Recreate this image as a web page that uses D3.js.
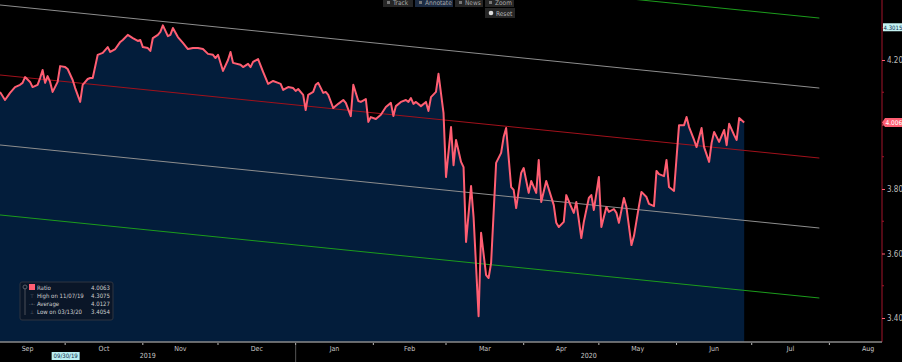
<!DOCTYPE html>
<html>
<head>
<meta charset="utf-8">
<script src="https://cdn.jsdelivr.net/npm/d3@7"></script>
<style>
  body { margin: 0; background: #000; overflow: hidden; }
  text { font-family: "DejaVu Sans Condensed", "Liberation Sans Narrow", "Liberation Sans", sans-serif; font-stretch: condensed; }
</style>
</head>
<body>
<div class="ratio-chart"></div>
<script>
// ratio series
const dates = [
  "2019-09-05","2019-09-07","2019-09-09","2019-09-11","2019-09-13","2019-09-14","2019-09-15","2019-09-17","2019-09-18","2019-09-20",
  "2019-09-21","2019-09-22","2019-09-23","2019-09-24","2019-09-25","2019-09-26","2019-09-28","2019-09-29",
  "2019-10-01","2019-10-02","2019-10-04","2019-10-05","2019-10-07","2019-10-08","2019-10-10","2019-10-11","2019-10-12","2019-10-14",
  "2019-10-15","2019-10-16","2019-10-18","2019-10-19","2019-10-21","2019-10-23","2019-10-24","2019-10-26","2019-10-28","2019-10-30","2019-10-31",
  "2019-11-01","2019-11-03","2019-11-04","2019-11-05","2019-11-07","2019-11-08","2019-11-09","2019-11-11","2019-11-12","2019-11-13",
  "2019-11-15","2019-11-17","2019-11-19","2019-11-21","2019-11-23","2019-11-25","2019-11-27","2019-11-29","2019-11-30",
  "2019-12-01","2019-12-03","2019-12-05","2019-12-06","2019-12-07","2019-12-10","2019-12-11","2019-12-13","2019-12-14","2019-12-15",
  "2019-12-17","2019-12-19","2019-12-21","2019-12-23","2019-12-25","2019-12-26","2019-12-27","2019-12-29","2019-12-31",
  "2020-01-01","2020-01-02","2020-01-04","2020-01-05","2020-01-06","2020-01-08","2020-01-09","2020-01-10","2020-01-12","2020-01-13",
  "2020-01-14","2020-01-16","2020-01-18","2020-01-20","2020-01-21","2020-01-23","2020-01-24","2020-01-26","2020-01-27","2020-01-29","2020-01-30","2020-01-31",
  "2020-02-02","2020-02-04","2020-02-06","2020-02-08","2020-02-09","2020-02-10","2020-02-12","2020-02-14","2020-02-15","2020-02-16",
  "2020-02-17","2020-02-18","2020-02-20","2020-02-22","2020-02-23","2020-02-24","2020-02-26","2020-02-27","2020-02-29",
  "2020-03-01","2020-03-03","2020-03-04","2020-03-05","2020-03-07","2020-03-08","2020-03-09","2020-03-11","2020-03-12","2020-03-14",
  "2020-03-15","2020-03-17","2020-03-18","2020-03-19","2020-03-21","2020-03-23","2020-03-24","2020-03-25","2020-03-27","2020-03-28","2020-03-29","2020-03-31",
  "2020-04-01","2020-04-03","2020-04-04","2020-04-06","2020-04-07","2020-04-08","2020-04-10","2020-04-13","2020-04-14","2020-04-15",
  "2020-04-17","2020-04-18","2020-04-20","2020-04-21","2020-04-22","2020-04-24","2020-04-25","2020-04-27","2020-04-28","2020-04-29",
  "2020-05-01","2020-05-02","2020-05-04","2020-05-05","2020-05-07","2020-05-08","2020-05-09","2020-05-11","2020-05-12","2020-05-14",
  "2020-05-15","2020-05-17","2020-05-18","2020-05-20","2020-05-21","2020-05-23","2020-05-24","2020-05-25","2020-05-27","2020-05-28","2020-05-29","2020-05-31",
  "2020-06-01","2020-06-02","2020-06-04","2020-06-05","2020-06-06","2020-06-08","2020-06-09","2020-06-11","2020-06-12","2020-06-14",
  "2020-06-15","2020-06-16","2020-06-18","2020-06-20","2020-06-21","2020-06-22","2020-06-24","2020-06-25","2020-06-26","2020-06-28"
];
const ratio = [
  4.101,4.076,4.098,4.116,4.123,4.129,4.147,4.132,4.116,4.123,
  4.144,4.169,4.129,4.150,4.132,4.101,4.132,4.181,
  4.178,4.172,4.138,4.113,4.070,4.123,4.141,4.144,4.144,4.216,
  4.219,4.222,4.240,4.225,4.234,4.256,4.262,4.278,4.268,4.259,4.262,
  4.240,4.237,4.228,4.268,4.278,4.287,4.3075,4.274,4.278,4.299,
  4.271,4.253,4.234,4.237,4.237,4.234,4.219,4.216,4.206,
  4.216,4.166,4.200,4.225,4.191,4.185,4.178,4.188,4.178,4.194,
  4.203,4.163,4.126,4.135,4.129,4.126,4.107,4.116,4.113,
  4.104,4.110,4.092,4.045,4.092,4.101,4.123,4.129,4.098,4.101,
  4.092,4.051,4.064,4.076,4.067,4.026,4.123,4.073,4.070,4.079,4.008,4.023,
  4.017,4.030,4.054,4.067,4.026,4.057,4.070,4.076,4.070,4.082,
  4.064,4.070,4.057,4.070,4.042,4.085,4.101,4.157,4.036,
  3.837,3.992,3.874,3.952,3.884,3.868,3.636,3.809,3.713,3.4054,
  3.664,3.533,3.524,3.571,3.881,3.912,3.961,3.989,3.806,3.797,3.741,3.850,
  3.865,3.788,3.825,3.788,3.890,3.760,3.825,3.750,3.695,3.682,
  3.698,3.781,3.744,3.726,3.760,3.648,3.698,3.772,3.781,3.735,
  3.837,3.682,3.744,3.729,3.738,3.726,3.695,3.772,3.744,3.626,
  3.654,3.747,3.791,3.775,3.754,3.747,3.856,3.846,3.840,3.890,3.806,3.794,
  3.896,3.998,3.998,4.023,3.992,3.952,3.930,3.989,3.930,3.884,
  3.943,3.977,3.946,3.983,3.936,4.002,3.967,3.952,4.020,4.0063
];

// axis ticks (4.00 label sits under the last-value tag)
const yTicks = [3.40, 3.60, 3.80, 4.00, 4.20];
const yMinorTicks = [3.50, 3.70, 3.90, 4.10, 4.30];
const years = ["2019", "2020"];

// regression channel (centre line + 1 and 2 std devs)
const channelDates = ["2019-09-05", "2020-07-28"];
const channelMid = [4.1535, 3.896];
const channelSigma = 0.217;
const channelSteps = [-2, -1, 0, 1, 2];
const channelColors = ["#1c9c1c", "#8e8e8e", "#a1111b", "#8e8e8e", "#1c9c1c"];

// legend + tags
const legendLabels = ["Ratio", "High on 11/07/19", "Average", "Low on 03/13/20"];
const legendValues = ["4.0063", "4.3075", "4.0127", "3.4054"];
const legendGlyphs = ["", "\u22A4", "-\u2022-", "\u22A5"];
const lastTag = "4.006";
const topTag = "4.3015";
const cursorDate = "2019-09-30";
const toolButtons = ["Track", "Annotate", "News", "Zoom"];

// set the dimensions
const W = 902, H = 362;
const plot = { left: 0, top: 0, right: 882, bottom: 342 };

const svg = d3.select(".ratio-chart")
  .append("svg")
  .attr("width", W)
  .attr("height", H)
  .style("display", "block")
  .style("background", "#000");

const parse = d3.timeParse("%Y-%m-%d");
const data = dates.map((d, i) => ({ date: parse(d), value: ratio[i] }));

const x = d3.scaleTime()
  .domain([parse("2019-09-05"), parse("2020-08-22")])
  .range([plot.left, plot.right]);

const y = d3.scaleLinear()
  .domain([3.3256, 4.386])
  .range([plot.bottom, plot.top]);

svg.append("clipPath").attr("id", "clip")
  .append("rect")
  .attr("x", plot.left).attr("y", plot.top)
  .attr("width", plot.right - plot.left).attr("height", plot.bottom - plot.top);

// filled area under the ratio
svg.append("path")
  .datum(data)
  .attr("fill", "#031d3b")
  .attr("d", d3.area()
    .x(d => x(d.date))
    .y0(plot.bottom)
    .y1(d => y(d.value)));

// regression channel lines
const c0 = parse(channelDates[0]), c1 = parse(channelDates[1]);
svg.append("g")
  .attr("clip-path", "url(#clip)")
  .selectAll("line")
  .data(channelSteps)
  .join("line")
  .attr("x1", x(c0))
  .attr("x2", x(c1))
  .attr("y1", s => y(channelMid[0] + s * channelSigma))
  .attr("y2", s => y(channelMid[1] + s * channelSigma))
  .attr("stroke", (s, i) => channelColors[i])
  .attr("stroke-width", 1);

// the ratio line
svg.append("path")
  .datum(data)
  .attr("fill", "none")
  .attr("stroke", "#ff5e72")
  .attr("stroke-width", 2)
  .attr("stroke-linejoin", "round")
  .attr("d", d3.line()
    .x(d => x(d.date))
    .y(d => y(d.value)));

// right axis
const yAxis = svg.append("g")
  .attr("transform", `translate(${plot.right},0)`)
  .call(d3.axisRight(y).tickValues(yTicks).tickSize(3).tickPadding(2)
    .tickFormat(d => d === 4 ? "" : d3.format(".2f")(d)));
yAxis.select(".domain").attr("stroke", "#a3142a").attr("d", `M0,0V${plot.bottom}`);
yAxis.selectAll(".tick line").attr("stroke", "#ff5e72");
yAxis.selectAll(".tick text").attr("fill", "#bdbdbd").style("font-size", "8px");
yAxis.selectAll(".minor")
  .data(yMinorTicks)
  .join("line")
  .attr("class", "minor")
  .attr("x1", 0).attr("x2", 2)
  .attr("y1", d => y(d)).attr("y2", d => y(d))
  .attr("stroke", "#a3142a");

// value tags on the right axis
const tagLast = svg.append("g").attr("transform", `translate(${plot.right},${y(ratio[ratio.length - 1])})`);
tagLast.append("path")
  .attr("d", "M0,0L3,-4.5H20V4.5H3Z")
  .attr("fill", "#ff5e72");
tagLast.append("text")
  .attr("x", 3.5).attr("y", 2.5)
  .attr("fill", "#fff")
  .style("font-size", "6.5px")
  .text(lastTag);

const tagTop = svg.append("g").attr("transform", `translate(${plot.right + 1},${y(+topTag)})`);
tagTop.append("rect")
  .attr("x", 0).attr("y", -4).attr("width", 19).attr("height", 8)
  .attr("fill", "#c4f2f2");
tagTop.append("text")
  .attr("x", 0.5).attr("y", 2.3)
  .attr("fill", "#0d2a4a")
  .style("font-size", "6px")
  .text(topTag);

// bottom axis: line, month ticks, month labels in the middle of each month
const xAxis = svg.append("g").attr("transform", `translate(0,${plot.bottom})`);
xAxis.append("line")
  .attr("x1", 0).attr("x2", plot.right)
  .attr("stroke", "#8a8a8a").attr("stroke-width", 1.5);

const months = d3.timeMonth.range(d3.timeMonth.floor(x.domain()[0]), x.domain()[1]);
xAxis.selectAll(".mtick")
  .data(months.filter(m => x(m) > 0))
  .join("line")
  .attr("class", "mtick")
  .attr("x1", d => x(d)).attr("x2", d => x(d))
  .attr("y1", 1).attr("y2", 3)
  .attr("stroke", "#bbb");

xAxis.selectAll(".mlabel")
  .data(months)
  .join("text")
  .attr("class", "mlabel")
  .attr("x", d => x(new Date((+d + +d3.timeMonth.offset(d, 1)) / 2)))
  .attr("y", 9)
  .attr("text-anchor", "middle")
  .attr("fill", "#c8c8c8")
  .style("font-size", "7px")
  .text(d3.timeFormat("%b"));

// years
const jan = parse("2020-01-01");
const yearSpans = [[0, x(jan)], [x(jan), plot.right]];
xAxis.selectAll(".ylabel")
  .data(years)
  .join("text")
  .attr("class", "ylabel")
  .attr("x", (d, i) => (yearSpans[i][0] + yearSpans[i][1]) / 2)
  .attr("y", 16)
  .attr("text-anchor", "middle")
  .attr("fill", "#c8c8c8")
  .style("font-size", "7px")
  .text(d => d);
xAxis.append("line")
  .attr("x1", x(jan)).attr("x2", x(jan))
  .attr("y1", 3).attr("y2", 20)
  .attr("stroke", "#555");

// cursor date tag
const cx = x(parse(cursorDate)) + 3;
xAxis.append("rect")
  .attr("x", cx - 14).attr("y", 10).attr("width", 28).attr("height", 8)
  .attr("fill", "#b9eef0");
xAxis.append("text")
  .attr("x", cx).attr("y", 16.2)
  .attr("text-anchor", "middle")
  .attr("fill", "#0d2a4a")
  .style("font-size", "6px")
  .text(d3.timeFormat("%m/%d/%y")(parse(cursorDate)));

// legend box
const legend = svg.append("g").attr("transform", "translate(20,282)");
legend.append("rect")
  .attr("width", 93).attr("height", 38).attr("rx", 2)
  .attr("fill", "#0a1628").attr("stroke", "#2e3440");
legend.append("line")
  .attr("x1", 5).attr("x2", 5).attr("y1", 6).attr("y2", 33)
  .attr("stroke", "#4a4f58");
legend.append("circle")
  .attr("cx", 5).attr("cy", 5).attr("r", 2)
  .attr("fill", "none").attr("stroke", "#5a5f68");
legend.append("rect")
  .attr("x", 9).attr("y", 2).attr("width", 6).attr("height", 6)
  .attr("fill", "#ff5e72");
const rows = legend.selectAll(".row")
  .data(legendLabels)
  .join("g")
  .attr("class", "row")
  .attr("transform", (d, i) => `translate(0,${7.5 + i * 8})`);
rows.append("text")
  .attr("x", 12).attr("text-anchor", "middle")
  .attr("fill", "#6b7078")
  .style("font-size", "5px")
  .text((d, i) => legendGlyphs[i]);
rows.append("text")
  .attr("x", 17)
  .attr("fill", "#cfcfcf")
  .style("font-size", "6px")
  .text(d => d);
rows.append("text")
  .attr("x", 90).attr("text-anchor", "end")
  .attr("fill", "#cfcfcf")
  .style("font-size", "6px")
  .text((d, i) => legendValues[i]);

// toolbar at the top, cut by the window edge
const btnX = [383, 415, 455, 485];
const btnW = [30, 38, 28, 29];
const toolbar = svg.append("g");
toolbar.selectAll(".btn")
  .data(toolButtons)
  .join("rect")
  .attr("class", "btn")
  .attr("x", (d, i) => btnX[i]).attr("y", -4)
  .attr("width", (d, i) => btnW[i]).attr("height", 11)
  .attr("fill", d => d === "Annotate" ? "#1c2b42" : "#262626");
toolbar.selectAll(".btnlabel")
  .data(toolButtons)
  .join("text")
  .attr("class", "btnlabel")
  .attr("x", (d, i) => btnX[i] + 10).attr("y", 5)
  .attr("fill", "#a8a8a8")
  .style("font-size", "6.5px")
  .text(d => d);
toolbar.selectAll(".btnicon")
  .data(toolButtons)
  .join("rect")
  .attr("class", "btnicon")
  .attr("x", (d, i) => btnX[i] + 4).attr("y", 1)
  .attr("width", 3).attr("height", 3)
  .attr("fill", "#777");
toolbar.append("rect")
  .attr("x", 485).attr("y", 8).attr("width", 30).attr("height", 10)
  .attr("fill", "#262626");
toolbar.append("circle")
  .attr("cx", 491).attr("cy", 13).attr("r", 2.3)
  .attr("fill", "#ddd");
toolbar.append("text")
  .attr("x", 496).attr("y", 15.5)
  .attr("fill", "#b8b8b8")
  .style("font-size", "6.5px")
  .text("Reset");
</script>
</body>
</html>
